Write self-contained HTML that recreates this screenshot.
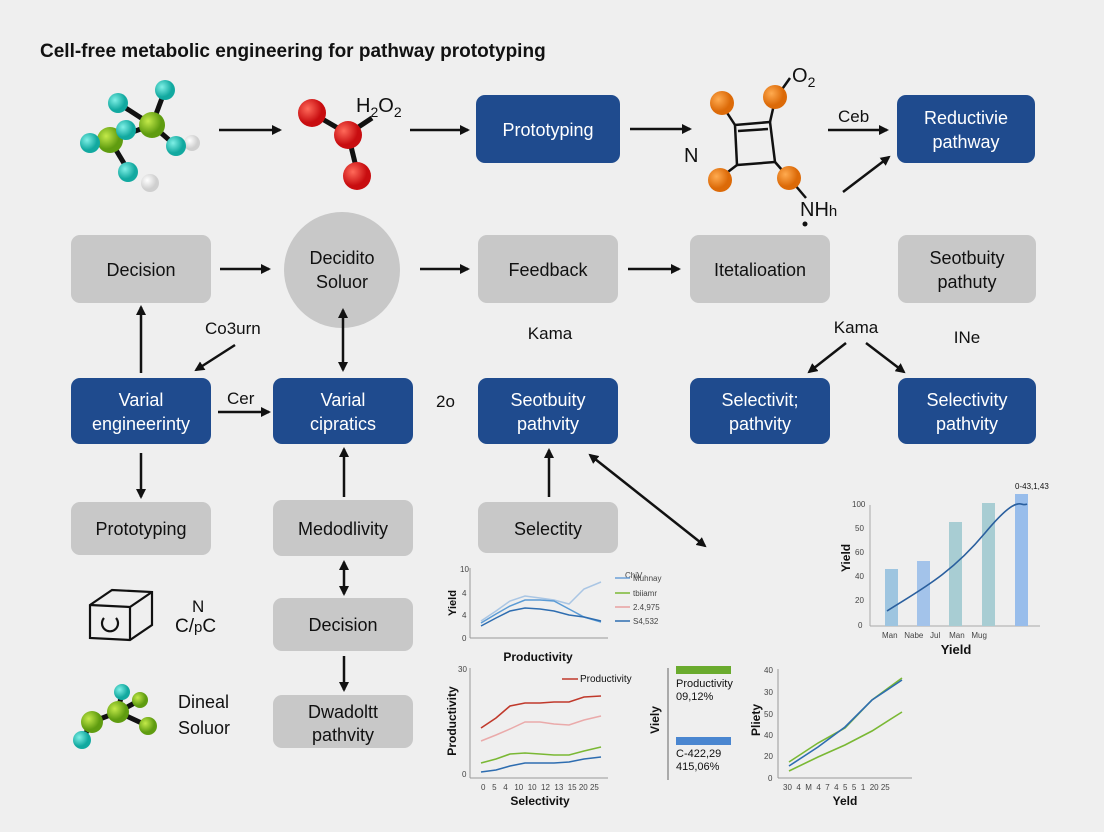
<!DOCTYPE html>
<html><head><meta charset="utf-8"><style>
html,body{margin:0;padding:0;background:#efefef;}
svg{display:block;font-family:"Liberation Sans",sans-serif;}
</style></head><body>
<svg width="1104" height="832" viewBox="0 0 1104 832" xmlns="http://www.w3.org/2000/svg">
<defs>
<marker id="ah" markerWidth="10" markerHeight="10" refX="8" refY="5" orient="auto" markerUnits="userSpaceOnUse"><path d="M0,0 L10,5 L0,10 z" fill="#111"/></marker>
<marker id="as" markerWidth="10" markerHeight="10" refX="2" refY="5" orient="auto" markerUnits="userSpaceOnUse"><path d="M10,0 L0,5 L10,10 z" fill="#111"/></marker>
<radialGradient id="gc" cx="35%" cy="35%"><stop offset="0" stop-color="#7ff0e6"/><stop offset="1" stop-color="#12a9a0"/></radialGradient>
<radialGradient id="gg" cx="35%" cy="35%"><stop offset="0" stop-color="#c4ea4a"/><stop offset="1" stop-color="#5f9c10"/></radialGradient>
<radialGradient id="gw" cx="35%" cy="35%"><stop offset="0" stop-color="#fff"/><stop offset="1" stop-color="#cfcfcf"/></radialGradient>
<radialGradient id="gr" cx="35%" cy="35%"><stop offset="0" stop-color="#ff6a5a"/><stop offset="1" stop-color="#c80d10"/></radialGradient>
<radialGradient id="go" cx="35%" cy="35%"><stop offset="0" stop-color="#ffab50"/><stop offset="1" stop-color="#dc6a08"/></radialGradient>
</defs>
<rect width="1104" height="832" fill="#efefef"/>
<text x="40" y="57" font-size="19" font-weight="bold" fill="#111">Cell-free metabolic engineering for pathway prototyping</text>

<!-- molecule 1 -->
<g stroke="#111" stroke-width="5">
<line x1="152" y1="125" x2="110" y2="140"/><line x1="152" y1="125" x2="165" y2="90"/><line x1="152" y1="125" x2="176" y2="146"/><line x1="110" y1="140" x2="90" y2="143"/><line x1="110" y1="140" x2="128" y2="170"/><line x1="152" y1="125" x2="118" y2="103"/>
</g>
<circle cx="165" cy="90" r="10" fill="url(#gc)"/><circle cx="118" cy="103" r="10" fill="url(#gc)"/>
<circle cx="152" cy="125" r="13" fill="url(#gg)"/><circle cx="110" cy="140" r="13" fill="url(#gg)"/>
<circle cx="126" cy="130" r="10" fill="url(#gc)"/><circle cx="90" cy="143" r="10" fill="url(#gc)"/>
<circle cx="192" cy="143" r="8" fill="url(#gw)"/><circle cx="176" cy="146" r="10" fill="url(#gc)"/>
<circle cx="128" cy="172" r="10" fill="url(#gc)"/><circle cx="150" cy="183" r="9" fill="url(#gw)"/>
<line x1="219" y1="130" x2="280" y2="130" stroke="#111" stroke-width="2.5" marker-end="url(#ah)"/>
<!-- red molecule -->
<g stroke="#111" stroke-width="5"><line x1="312" y1="113" x2="348" y2="134"/><line x1="348" y1="134" x2="358" y2="175"/><line x1="348" y1="134" x2="372" y2="118"/></g>
<circle cx="312" cy="113" r="14" fill="url(#gr)"/><circle cx="348" cy="135" r="14" fill="url(#gr)"/><circle cx="357" cy="176" r="14" fill="url(#gr)"/>
<text x="356" y="112" font-size="20" fill="#111">H<tspan font-size="14" dy="5">2</tspan><tspan dy="-5">O</tspan><tspan font-size="14" dy="5">2</tspan></text>
<line x1="410" y1="130" x2="468" y2="130" stroke="#111" stroke-width="2.5" marker-end="url(#ah)"/>
<rect x="476" y="95" width="144" height="68" rx="9" fill="#1f4b8e"/>
<text x="548" y="136" font-size="18" fill="#fff" text-anchor="middle">Prototyping</text>
<line x1="630" y1="129" x2="690" y2="129" stroke="#111" stroke-width="2.5" marker-end="url(#ah)"/>
<!-- square molecule -->
<g stroke="#111" stroke-width="2.5" fill="none"><path d="M735,125 L770,122 L775,162 L737,165 Z"/><line x1="738" y1="131" x2="768" y2="129"/><line x1="735" y1="125" x2="722" y2="105"/><line x1="770" y1="122" x2="775" y2="100"/><line x1="737" y1="165" x2="720" y2="178"/><line x1="775" y1="162" x2="789" y2="178"/><line x1="778" y1="95" x2="790" y2="78"/><line x1="795" y1="185" x2="806" y2="198"/></g>
<circle cx="722" cy="103" r="12" fill="url(#go)"/><circle cx="775" cy="97" r="12" fill="url(#go)"/><circle cx="720" cy="180" r="12" fill="url(#go)"/><circle cx="789" cy="178" r="12" fill="url(#go)"/>
<text x="792" y="82" font-size="20" fill="#111">O<tspan font-size="14" dy="5">2</tspan></text>
<text x="684" y="162" font-size="20" fill="#111">N</text>
<text x="800" y="216" font-size="20" fill="#111">NH<tspan font-size="15">h</tspan></text>
<circle cx="805" cy="224" r="2.5" fill="#111"/>
<text x="838" y="122" font-size="17" fill="#111">Ceb</text>
<line x1="828" y1="130" x2="887" y2="130" stroke="#111" stroke-width="2.5" marker-end="url(#ah)"/>
<line x1="843" y1="192" x2="889" y2="157" stroke="#111" stroke-width="2.5" marker-end="url(#ah)"/>
<rect x="897" y="95" width="138" height="68" rx="9" fill="#1f4b8e"/>
<text x="966" y="124" font-size="18" fill="#fff" text-anchor="middle">Reductivie</text>
<text x="966" y="148" font-size="18" fill="#fff" text-anchor="middle">pathway</text>

<!-- row 2 -->
<rect x="71" y="235" width="140" height="68" rx="9" fill="#c8c8c8"/>
<text x="141" y="276" font-size="18" fill="#111" text-anchor="middle">Decision</text>
<line x1="220" y1="269" x2="269" y2="269" stroke="#111" stroke-width="2.5" marker-end="url(#ah)"/>
<circle cx="342" cy="270" r="58" fill="#c8c8c8"/>
<text x="342" y="264" font-size="18" fill="#111" text-anchor="middle">Decidito</text>
<text x="342" y="288" font-size="18" fill="#111" text-anchor="middle">Soluor</text>
<line x1="420" y1="269" x2="468" y2="269" stroke="#111" stroke-width="2.5" marker-end="url(#ah)"/>
<rect x="478" y="235" width="140" height="68" rx="9" fill="#c8c8c8"/>
<text x="548" y="276" font-size="18" fill="#111" text-anchor="middle">Feedback</text>
<line x1="628" y1="269" x2="679" y2="269" stroke="#111" stroke-width="2.5" marker-end="url(#ah)"/>
<rect x="690" y="235" width="140" height="68" rx="9" fill="#c8c8c8"/>
<text x="760" y="276" font-size="18" fill="#111" text-anchor="middle">Itetalioation</text>
<rect x="898" y="235" width="138" height="68" rx="9" fill="#c8c8c8"/>
<text x="967" y="264" font-size="18" fill="#111" text-anchor="middle">Seotbuity</text>
<text x="967" y="288" font-size="18" fill="#111" text-anchor="middle">pathuty</text>

<!-- connectors row 2-3 -->
<text x="205" y="334" font-size="17" fill="#111">Co3urn</text>
<line x1="235" y1="345" x2="196" y2="370" stroke="#111" stroke-width="2.5" marker-end="url(#ah)"/>
<line x1="141" y1="373" x2="141" y2="307" stroke="#111" stroke-width="2.5" marker-end="url(#ah)"/>
<line x1="343" y1="310" x2="343" y2="370" stroke="#111" stroke-width="2.5" marker-end="url(#ah)" marker-start="url(#as)"/>
<text x="550" y="339" font-size="17" fill="#111" text-anchor="middle">Kama</text>
<text x="856" y="333" font-size="17" fill="#111" text-anchor="middle">Kama</text>
<line x1="846" y1="343" x2="809" y2="372" stroke="#111" stroke-width="2.5" marker-end="url(#ah)"/>
<line x1="866" y1="343" x2="904" y2="372" stroke="#111" stroke-width="2.5" marker-end="url(#ah)"/>
<text x="967" y="343" font-size="17" fill="#111" text-anchor="middle">INe</text>

<!-- row 3 -->
<rect x="71" y="378" width="140" height="66" rx="9" fill="#1f4b8e"/>
<text x="141" y="406" font-size="18" fill="#fff" text-anchor="middle">Varial</text>
<text x="141" y="430" font-size="18" fill="#fff" text-anchor="middle">engineerinty</text>
<text x="227" y="404" font-size="17" fill="#111">Cer</text>
<line x1="218" y1="412" x2="269" y2="412" stroke="#111" stroke-width="2.5" marker-end="url(#ah)"/>
<rect x="273" y="378" width="140" height="66" rx="9" fill="#1f4b8e"/>
<text x="343" y="406" font-size="18" fill="#fff" text-anchor="middle">Varial</text>
<text x="343" y="430" font-size="18" fill="#fff" text-anchor="middle">cipratics</text>
<text x="436" y="407" font-size="17" fill="#111">2o</text>
<rect x="478" y="378" width="140" height="66" rx="9" fill="#1f4b8e"/>
<text x="548" y="406" font-size="18" fill="#fff" text-anchor="middle">Seotbuity</text>
<text x="548" y="430" font-size="18" fill="#fff" text-anchor="middle">pathvity</text>
<rect x="690" y="378" width="140" height="66" rx="9" fill="#1f4b8e"/>
<text x="760" y="406" font-size="18" fill="#fff" text-anchor="middle">Selectivit;</text>
<text x="760" y="430" font-size="18" fill="#fff" text-anchor="middle">pathvity</text>
<rect x="898" y="378" width="138" height="66" rx="9" fill="#1f4b8e"/>
<text x="967" y="406" font-size="18" fill="#fff" text-anchor="middle">Selectivity</text>
<text x="967" y="430" font-size="18" fill="#fff" text-anchor="middle">pathvity</text>

<line x1="141" y1="453" x2="141" y2="497" stroke="#111" stroke-width="2.5" marker-end="url(#ah)"/>
<line x1="344" y1="497" x2="344" y2="449" stroke="#111" stroke-width="2.5" marker-end="url(#ah)"/>
<line x1="549" y1="497" x2="549" y2="450" stroke="#111" stroke-width="2.5" marker-end="url(#ah)"/>
<line x1="590" y1="455" x2="705" y2="546" stroke="#111" stroke-width="2.5" marker-end="url(#ah)" marker-start="url(#as)"/>

<!-- row 4 -->
<rect x="71" y="502" width="140" height="53" rx="9" fill="#c8c8c8"/>
<text x="141" y="535" font-size="18" fill="#111" text-anchor="middle">Prototyping</text>
<rect x="273" y="500" width="140" height="56" rx="9" fill="#c8c8c8"/>
<text x="343" y="535" font-size="18" fill="#111" text-anchor="middle">Medodlivity</text>
<rect x="478" y="502" width="140" height="51" rx="9" fill="#c8c8c8"/>
<text x="548" y="535" font-size="18" fill="#111" text-anchor="middle">Selectity</text>
<line x1="344" y1="562" x2="344" y2="594" stroke="#111" stroke-width="2.5" marker-end="url(#ah)" marker-start="url(#as)"/>
<rect x="273" y="598" width="140" height="53" rx="9" fill="#c8c8c8"/>
<text x="343" y="631" font-size="18" fill="#111" text-anchor="middle">Decision</text>
<line x1="344" y1="656" x2="344" y2="690" stroke="#111" stroke-width="2.5" marker-end="url(#ah)"/>
<rect x="273" y="695" width="140" height="53" rx="9" fill="#c8c8c8"/>
<text x="343" y="718" font-size="18" fill="#111" text-anchor="middle">Dwadoltt</text>
<text x="343" y="741" font-size="18" fill="#111" text-anchor="middle">pathvity</text>

<!-- box icon -->
<g stroke="#111" stroke-width="2.2" fill="none"><path d="M90,605 L112,590 L152,592 L152,625 L130,640 L90,638 Z"/><path d="M90,605 L130,607 L152,592"/><line x1="130" y1="607" x2="130" y2="640"/><path d="M104,618 a8,8 0 1 0 12,0"/></g>
<text x="192" y="612" font-size="17" fill="#111">N</text>
<text x="175" y="632" font-size="19" fill="#111">C/<tspan font-size="15">p</tspan>C</text>
<!-- green molecule -->
<g stroke="#111" stroke-width="5"><line x1="122" y1="692" x2="118" y2="712"/><line x1="118" y1="712" x2="92" y2="722"/><line x1="92" y1="722" x2="82" y2="740"/><line x1="118" y1="712" x2="148" y2="726"/><line x1="118" y1="712" x2="140" y2="700"/></g>
<circle cx="122" cy="692" r="8" fill="url(#gc)"/><circle cx="118" cy="712" r="11" fill="url(#gg)"/><circle cx="92" cy="722" r="11" fill="url(#gg)"/><circle cx="82" cy="740" r="9" fill="url(#gc)"/><circle cx="148" cy="726" r="9" fill="url(#gg)"/><circle cx="140" cy="700" r="8" fill="url(#gg)"/>
<text x="178" y="708" font-size="18" fill="#111">Dineal</text>
<text x="178" y="734" font-size="18" fill="#111">Soluor</text>

<!-- chart 1 -->
<g font-size="8" fill="#444">
<line x1="470" y1="568" x2="470" y2="638" stroke="#999"/><line x1="470" y1="638" x2="608" y2="638" stroke="#999"/>
<text x="460" y="572">10</text><text x="462" y="596">4</text><text x="462" y="618">4</text><text x="462" y="641">0</text>
<text x="456" y="603" font-size="11" font-weight="bold" fill="#111" transform="rotate(-90 456 603)" text-anchor="middle">Yield</text>
<polyline points="481,621 496,611 510,601 525,596 540,598 554,600 569,604 584,589 601,582" fill="none" stroke="#aac6e4" stroke-width="1.5"/>
<polyline points="481,623 496,614 510,606 525,600 540,600 554,601 569,609 584,617 601,622" fill="none" stroke="#5b9bd5" stroke-width="1.5"/>
<polyline points="481,626 496,618 510,611 525,608 540,609 554,611 569,615 584,617 601,621" fill="none" stroke="#2e6db0" stroke-width="1.5"/>
<text x="625" y="578">ChiV</text>
<line x1="615" y1="578" x2="630" y2="578" stroke="#6aa0d8" stroke-width="1.5"/><text x="633" y="581">Muhnay</text>
<line x1="615" y1="593" x2="630" y2="593" stroke="#7ab834" stroke-width="1.5"/><text x="633" y="596">tbiiamr</text>
<line x1="615" y1="607" x2="630" y2="607" stroke="#e8a0a0" stroke-width="1.5"/><text x="633" y="610">2.4,975</text>
<line x1="615" y1="621" x2="630" y2="621" stroke="#2e6db0" stroke-width="1.5"/><text x="633" y="624">S4,532</text>
<text x="538" y="661" font-size="12" font-weight="bold" fill="#111" text-anchor="middle">Productivity</text>
</g>
<!-- chart 2 -->
<g font-size="8" fill="#444">
<line x1="470" y1="668" x2="470" y2="778" stroke="#999"/><line x1="470" y1="778" x2="608" y2="778" stroke="#999"/>
<text x="458" y="672">30</text><text x="462" y="777">0</text>
<text x="455" y="720" font-size="12" font-weight="bold" fill="#111" transform="rotate(-90 456 720)" text-anchor="middle">Productivity</text>
<polyline points="481,728 496,718 510,706 525,703 540,703 554,702 569,702 584,697 601,696" fill="none" stroke="#c0392b" stroke-width="1.6"/>
<polyline points="481,741 496,735 510,729 525,722 540,722 554,724 569,725 584,720 601,716" fill="none" stroke="#eaaaaa" stroke-width="1.5"/>
<polyline points="481,763 496,759 510,754 525,753 540,754 554,755 569,755 584,751 601,747" fill="none" stroke="#7ab834" stroke-width="1.6"/>
<polyline points="481,772 496,770 510,766 525,763 540,763 554,763 569,762 584,759 601,757" fill="none" stroke="#2e6db0" stroke-width="1.6"/>
<line x1="562" y1="679" x2="578" y2="679" stroke="#c0392b" stroke-width="1.5"/>
<text x="580" y="682" font-size="10" fill="#111">Productivity</text>
<text x="481" y="790">0 &#160; 5 &#160; 4 &#160; 10 &#160;10 &#160;12 &#160;13 &#160;15 20 25</text>
<text x="540" y="805" font-size="12" font-weight="bold" fill="#111" text-anchor="middle">Selectivity</text>
</g>
<!-- middle -->
<line x1="668" y1="780" x2="668" y2="668" stroke="#666" stroke-width="1"/>
<rect x="676" y="666" width="55" height="8" fill="#6aab2e"/>
<text x="676" y="687" font-size="11" fill="#111">Productivity</text>
<text x="676" y="700" font-size="11" fill="#111">09,12%</text>
<rect x="676" y="737" width="55" height="8" fill="#4a86d0"/>
<text x="676" y="757" font-size="11" fill="#111">C-422,29</text>
<text x="676" y="770" font-size="11" fill="#111">415,06%</text>
<text x="659" y="720" font-size="12" font-weight="bold" fill="#111" transform="rotate(-90 659 720)" text-anchor="middle">Viely</text>
<!-- chart 4 -->
<g font-size="8" fill="#444">
<line x1="778" y1="669" x2="778" y2="778" stroke="#999"/><line x1="778" y1="778" x2="912" y2="778" stroke="#999"/>
<text x="764" y="673">40</text><text x="764" y="695">30</text><text x="764" y="717">50</text><text x="764" y="738">40</text><text x="764" y="759">20</text><text x="768" y="781">0</text>
<text x="760" y="720" font-size="12" font-weight="bold" fill="#111" transform="rotate(-90 760 720)" text-anchor="middle">Pliety</text>
<polyline points="789,762 818,743 845,728 872,700 902,678" fill="none" stroke="#7ab834" stroke-width="1.6"/>
<polyline points="789,766 818,747 845,727 872,700 902,680" fill="none" stroke="#2e6db0" stroke-width="1.6"/>
<polyline points="789,771 818,757 845,745 872,731 902,712" fill="none" stroke="#7ab834" stroke-width="1.6"/>
<text x="783" y="790">30 &#160;4 &#160;M &#160;4 &#160;7 &#160;4 &#160;5 &#160;5 &#160;1 &#160;20 25</text>
<text x="845" y="805" font-size="12" font-weight="bold" fill="#111" text-anchor="middle">Yeld</text>
</g>
<!-- chart 3 -->
<g font-size="8" fill="#444">
<line x1="870" y1="505" x2="870" y2="626" stroke="#aaa"/><line x1="870" y1="626" x2="1040" y2="626" stroke="#aaa"/>
<text x="852" y="507">100</text><text x="855" y="531">50</text><text x="855" y="555">60</text><text x="855" y="579">40</text><text x="855" y="603">20</text><text x="858" y="628">0</text>
<rect x="885" y="569" width="13" height="57" fill="#9ec5e0"/>
<rect x="917" y="561" width="13" height="65" fill="#a3c3ea"/>
<rect x="949" y="522" width="13" height="104" fill="#a8cdd3"/>
<rect x="982" y="503" width="13" height="123" fill="#a8cdd3"/>
<rect x="1015" y="494" width="13" height="132" fill="#98bdeb"/>
<path d="M887,611 C920,590 950,575 985,533 S1020,508 1027,504" fill="none" stroke="#2a5f9e" stroke-width="1.6"/>
<text x="1015" y="489" font-size="8" fill="#111">0-43,1,43</text>
<text x="882" y="638">Man &#160;&#160;Nabe &#160;&#160;Jul &#160;&#160;&#160;Man &#160;&#160;Mug</text>
<text x="850" y="558" font-size="12" font-weight="bold" fill="#111" transform="rotate(-90 850 558)" text-anchor="middle">Yield</text>
<text x="956" y="654" font-size="13" font-weight="bold" fill="#111" text-anchor="middle">Yield</text>
</g>
</svg>
</body></html>
